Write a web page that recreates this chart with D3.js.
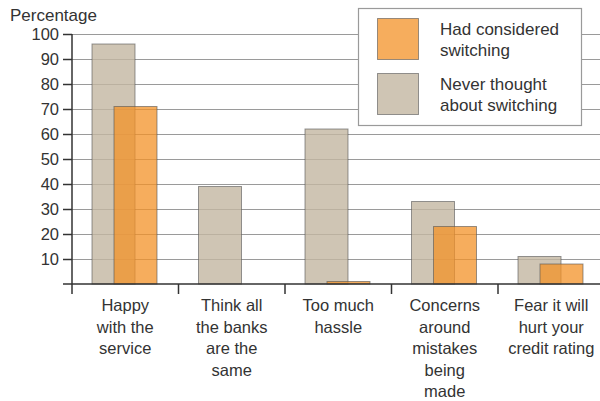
<!DOCTYPE html>
<html>
<head>
<meta charset="utf-8">
<script src="https://cdn.jsdelivr.net/npm/d3@7"></script>
<style>
  html, body { margin: 0; padding: 0; background: #fff; }
  svg { display: block; font-family: "Liberation Sans", Arial, Helvetica, sans-serif; }
</style>
</head>
<body>
<svg id="chart" width="600" height="401"></svg>
<script>
const categories = [
  ["Happy", "with the", "service"],
  ["Think all", "the banks", "are the", "same"],
  ["Too much", "hassle"],
  ["Concerns", "around", "mistakes", "being", "made"],
  ["Fear it will", "hurt your", "credit rating"]
];
const neverThought = [96, 39, 62, 33, 11];
const hadConsidered = [71, 0, 1, 23, 8];
const yTicks = [10, 20, 30, 40, 50, 60, 70, 80, 90, 100];
const seriesNames = [["Had considered", "switching"], ["Never thought", "about switching"]];

const svg = d3.select("#chart");
const x0 = 72, xEnd = 604.5, yBase = 284, yTop = 34;

const x = d3.scaleBand().domain(d3.range(categories.length)).range([x0, xEnd]).padding(0);
const y = d3.scaleLinear().domain([0, 100]).range([yBase, yTop]);

const textColor = "#333";

// gridlines
svg.append("g").selectAll("line").data(yTicks).join("line")
  .attr("x1", x0).attr("x2", 600)
  .attr("y1", d => y(d) + 0.5).attr("y2", d => y(d) + 0.5)
  .attr("stroke", "#9a9a9a").attr("stroke-width", 1);

const barW = 43, off = 20, shift = 22;

// gray bars
svg.append("g").selectAll("rect").data(neverThought).join("rect")
  .attr("x", (d, i) => x(i) + off)
  .attr("y", d => y(d))
  .attr("width", barW)
  .attr("height", d => yBase - y(d))
  .attr("fill", "#c3b7a1").attr("fill-opacity", 0.8)
  .attr("stroke", "#555").attr("stroke-opacity", 0.6).attr("stroke-width", 1);

// orange bars
svg.append("g").selectAll("rect").data(hadConsidered.map((v, i) => ({v, i})).filter(d => d.v > 0)).join("rect")
  .attr("x", d => x(d.i) + off + shift)
  .attr("y", d => y(d.v))
  .attr("width", barW)
  .attr("height", d => yBase - y(d.v))
  .attr("fill", "#f39127").attr("fill-opacity", 0.75)
  .attr("stroke", "#555").attr("stroke-opacity", 0.6).attr("stroke-width", 1);

// y axis
const yAxis = d3.axisLeft(y).tickValues(yTicks).tickSize(9).tickPadding(4).tickFormat(d3.format("d"));
const gy = svg.append("g").attr("transform", `translate(${x0},0)`).call(yAxis);
gy.select(".domain").remove();
gy.selectAll(".tick line").attr("stroke", "#333").attr("stroke-width", 1.5);
gy.selectAll(".tick text").attr("fill", textColor).attr("font-size", 16.5).attr("font-family", "Liberation Sans, Arial, sans-serif");
svg.append("line").attr("x1", x0).attr("x2", x0).attr("y1", yTop).attr("y2", yBase + 10)
  .attr("stroke", "#333").attr("stroke-width", 1.5);

// x axis baseline
svg.append("line").attr("x1", x0 - 9).attr("x2", 600).attr("y1", yBase).attr("y2", yBase)
  .attr("stroke", "#333").attr("stroke-width", 1.5);
// category ticks
svg.append("g").selectAll("line").data(d3.range(1, categories.length)).join("line")
  .attr("x1", d => x(d)).attr("x2", d => x(d))
  .attr("y1", yBase).attr("y2", yBase + 10)
  .attr("stroke", "#333").attr("stroke-width", 1.5);

// category labels
const lab = svg.append("g").selectAll("text").data(categories).join("text")
  .attr("x", (d, i) => x(i) + x.bandwidth() / 2)
  .attr("y", 311)
  .attr("text-anchor", "middle")
  .attr("font-size", 16.5)
  .attr("fill", textColor);
lab.selectAll("tspan").data(d => d).join("tspan")
  .attr("x", function() { return d3.select(this.parentNode).attr("x"); })
  .attr("dy", (d, i) => i === 0 ? 0 : 21.5)
  .text(d => d);

// y label
svg.append("text").attr("x", 10).attr("y", 21).attr("font-size", 17).attr("fill", textColor).text("Percentage");

// legend
const lg = svg.append("g");
lg.append("rect").attr("x", 358.5).attr("y", 8.5).attr("width", 223).attr("height", 117)
  .attr("fill", "#fff").attr("stroke", "#9a9a9a").attr("stroke-width", 1.2);
const legendColors = [{fill: "#f39127", op: 0.75}, {fill: "#c3b7a1", op: 0.8}];
seriesNames.forEach((s, i) => {
  const top = 18 + i * 55;
  lg.append("rect").attr("x", 377.5).attr("y", top + 0.5).attr("width", 41).attr("height", 41)
    .attr("fill", legendColors[i].fill).attr("fill-opacity", legendColors[i].op)
    .attr("stroke", "#555").attr("stroke-opacity", 0.6);
  const t = lg.append("text").attr("x", 440).attr("y", top + 17).attr("font-size", 17).attr("fill", textColor);
  t.selectAll("tspan").data(s).join("tspan").attr("x", 440).attr("dy", (d, j) => j === 0 ? 0 : 21).text(d => d);
});
</script>
</body>
</html>
